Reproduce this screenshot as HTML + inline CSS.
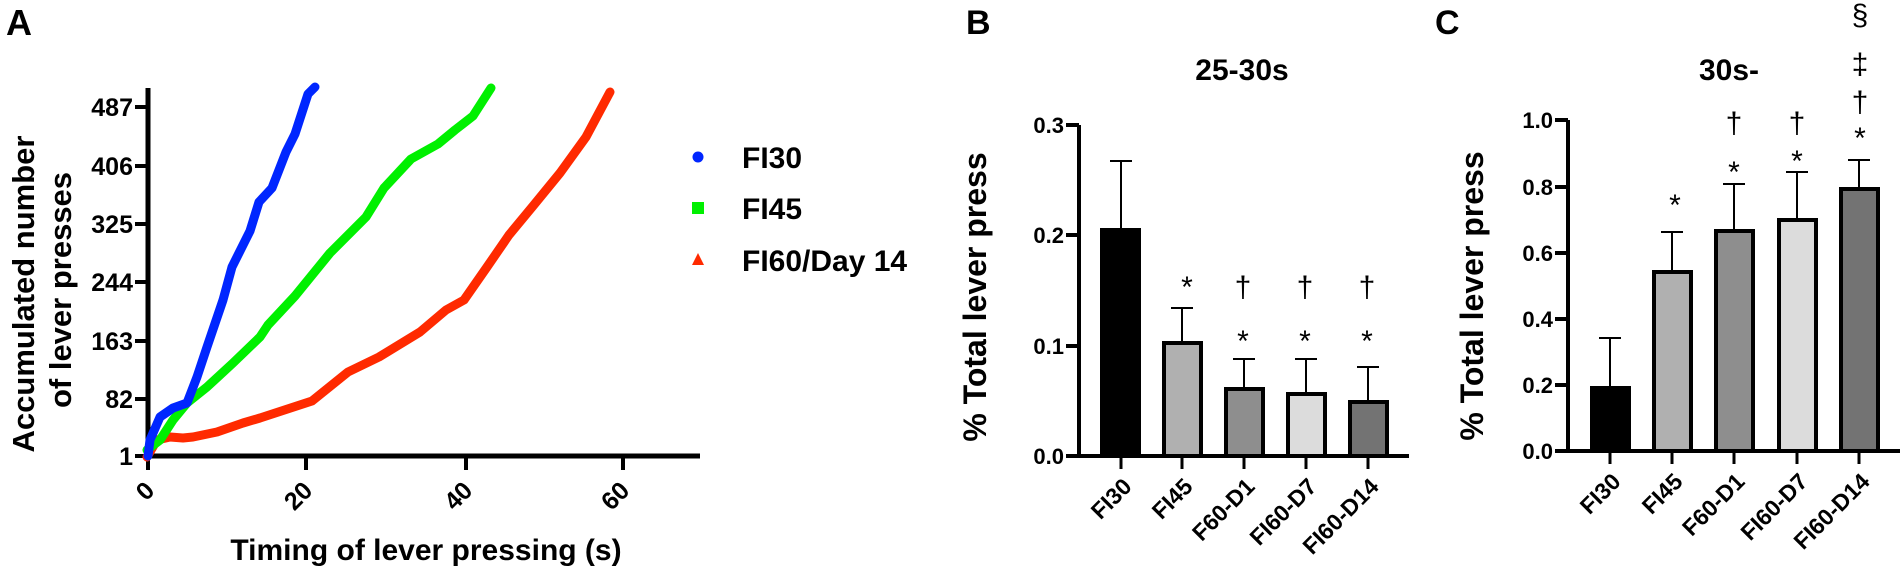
<!DOCTYPE html>
<html><head><meta charset="utf-8"><style>
html,body{margin:0;padding:0;background:#fff;}
svg{display:block;font-family:"Liberation Sans",Arial,sans-serif;}
</style></head><body>
<svg width="1900" height="566" viewBox="0 0 1900 566" xmlns="http://www.w3.org/2000/svg">
<!-- Panel A -->
<text x="6" y="35" font-size="36" font-weight="bold">A</text>
<g stroke="#000" stroke-width="5" fill="none">
<line x1="148" y1="88" x2="148" y2="458"/>
<line x1="146" y1="456" x2="700" y2="456"/>
</g>
<g stroke="#000" stroke-width="4">
<line x1="135" y1="107" x2="148" y2="107"/><line x1="135" y1="166" x2="148" y2="166"/>
<line x1="135" y1="224" x2="148" y2="224"/><line x1="135" y1="282" x2="148" y2="282"/>
<line x1="135" y1="341" x2="148" y2="341"/><line x1="135" y1="399" x2="148" y2="399"/>
<line x1="135" y1="456" x2="148" y2="456"/>
<line x1="148" y1="456" x2="148" y2="470"/><line x1="306" y1="456" x2="306" y2="470"/>
<line x1="466" y1="456" x2="466" y2="470"/><line x1="623" y1="456" x2="623" y2="470"/>
</g>
<g font-size="25" font-weight="bold" text-anchor="end">
<text x="133" y="116">487</text><text x="133" y="175">406</text><text x="133" y="233">325</text>
<text x="133" y="291">244</text><text x="133" y="350">163</text><text x="133" y="408">82</text>
<text x="133" y="465">1</text>
</g>
<g font-size="25" font-weight="bold" text-anchor="end">
<text transform="translate(156,492) rotate(-45)">0</text>
<text transform="translate(314,492) rotate(-45)">20</text>
<text transform="translate(474,492) rotate(-45)">40</text>
<text transform="translate(631,492) rotate(-45)">60</text>
</g>
<text x="426" y="560" font-size="30" font-weight="bold" text-anchor="middle">Timing of lever pressing (s)</text>
<text transform="translate(34,294) rotate(-90)" font-size="31" font-weight="bold" text-anchor="middle">Accumulated number</text>
<text transform="translate(71,290) rotate(-90)" font-size="31" font-weight="bold" text-anchor="middle">of lever presses</text>
<g fill="none" stroke-width="9" stroke-linejoin="round" stroke-linecap="round">
<polyline stroke="#ff2a00" points="147,457 157,440 170,437 183,438 193,437 217,432 243,423 260,418 312,401 348,372 379,357 420,332 446,310 464,300 487,267 509,235 533,206 560,173 586,137 610,92"/>
<polyline stroke="#00f000" points="147,450 160,440 173,420 187,403 207,387 233,363 260,337 268,325 295,296 330,253 366,217 384,188 411,159 438,144 455,130 473,116 491,88"/>
<polyline stroke="#0026ff" points="148,456 150,440 160,417 173,408 187,403 197,377 207,347 223,300 232,267 250,231 259,202 272,188 286,152 295,134 308,94 315,87"/>
</g>
<circle cx="698" cy="157" r="5.5" fill="#0026ff"/>
<rect x="692" y="202" width="12" height="12" fill="#00f000"/>
<polygon points="698,253 704,265 692,265" fill="#ff2a00"/>
<g font-size="30" font-weight="bold">
<text x="742" y="168">FI30</text><text x="742" y="219">FI45</text><text x="742" y="271">FI60/Day 14</text>
</g>

<!-- Panel B -->
<text x="966" y="34" font-size="34" font-weight="bold">B</text>
<text x="1242" y="80" font-size="30" font-weight="bold" text-anchor="middle">25-30s</text>
<text transform="translate(986,297) rotate(-90)" font-size="32" font-weight="bold" text-anchor="middle">% Total lever press</text>
<g stroke="#000" stroke-width="4">
<line x1="1079" y1="125" x2="1079" y2="458"/>
<line x1="1066" y1="456" x2="1409" y2="456"/>
<line x1="1066" y1="125" x2="1079" y2="125"/><line x1="1066" y1="235" x2="1079" y2="235"/>
<line x1="1066" y1="346" x2="1079" y2="346"/>
</g>
<g font-size="22" font-weight="bold" text-anchor="end">
<text x="1064" y="133">0.3</text><text x="1064" y="243">0.2</text><text x="1064" y="354">0.1</text><text x="1064" y="464">0.0</text>
</g>
<g stroke="#000" stroke-width="2">
<line x1="1121" y1="228" x2="1121" y2="161"/><line x1="1110" y1="161" x2="1132" y2="161"/>
<line x1="1182" y1="341" x2="1182" y2="308"/><line x1="1171" y1="308" x2="1193" y2="308"/>
<line x1="1244" y1="387" x2="1244" y2="359"/><line x1="1233" y1="359" x2="1255" y2="359"/>
<line x1="1306" y1="392" x2="1306" y2="359"/><line x1="1295" y1="359" x2="1317" y2="359"/>
<line x1="1368" y1="400" x2="1368" y2="367"/><line x1="1357" y1="367" x2="1379" y2="367"/>
</g>
<rect x="1100" y="228" width="41" height="228" fill="#000"/>
<g stroke="#000" stroke-width="4">
<rect x="1164" y="343" width="37" height="113" fill="#b0b0b0"/>
<rect x="1226" y="389" width="37" height="67" fill="#8e8e8e"/>
<rect x="1288" y="394" width="37" height="62" fill="#dcdcdc"/>
<rect x="1350" y="402" width="37" height="54" fill="#737373"/>
</g>
<g stroke="#000" stroke-width="3">
<line x1="1121" y1="456" x2="1121" y2="469"/><line x1="1182" y1="456" x2="1182" y2="469"/>
<line x1="1244" y1="456" x2="1244" y2="469"/><line x1="1306" y1="456" x2="1306" y2="469"/>
<line x1="1368" y1="456" x2="1368" y2="469"/>
</g>
<g font-size="23" font-weight="bold" text-anchor="end">
<text transform="translate(1133,488) rotate(-45)">FI30</text>
<text transform="translate(1194,488) rotate(-45)">FI45</text>
<text transform="translate(1256,488) rotate(-45)">F60-D1</text>
<text transform="translate(1318,488) rotate(-45)">FI60-D7</text>
<text transform="translate(1380,488) rotate(-45)">FI60-D14</text>
</g>
<g font-size="30" text-anchor="middle">
<text x="1187" y="297">*</text>
<text x="1243" y="297">†</text><text x="1243" y="351">*</text>
<text x="1305" y="297">†</text><text x="1305" y="351">*</text>
<text x="1367" y="297">†</text><text x="1367" y="351">*</text>
</g>

<!-- Panel C -->
<text x="1435" y="34" font-size="34" font-weight="bold">C</text>
<text x="1729" y="80" font-size="30" font-weight="bold" text-anchor="middle">30s-</text>
<text transform="translate(1483,296) rotate(-90)" font-size="32" font-weight="bold" text-anchor="middle">% Total lever press</text>
<g stroke="#000" stroke-width="4">
<line x1="1568" y1="120" x2="1568" y2="453"/>
<line x1="1566" y1="451" x2="1900" y2="451"/>
<line x1="1555" y1="120" x2="1568" y2="120"/><line x1="1555" y1="187" x2="1568" y2="187"/>
<line x1="1555" y1="253" x2="1568" y2="253"/><line x1="1555" y1="319" x2="1568" y2="319"/>
<line x1="1555" y1="385" x2="1568" y2="385"/><line x1="1555" y1="451" x2="1568" y2="451"/>
</g>
<g font-size="22" font-weight="bold" text-anchor="end">
<text x="1553" y="128">1.0</text><text x="1553" y="195">0.8</text><text x="1553" y="261">0.6</text>
<text x="1553" y="327">0.4</text><text x="1553" y="393">0.2</text><text x="1553" y="459">0.0</text>
</g>
<g stroke="#000" stroke-width="2">
<line x1="1610" y1="386" x2="1610" y2="338"/><line x1="1599" y1="338" x2="1621" y2="338"/>
<line x1="1672" y1="270" x2="1672" y2="232"/><line x1="1661" y1="232" x2="1683" y2="232"/>
<line x1="1734" y1="229" x2="1734" y2="184"/><line x1="1723" y1="184" x2="1745" y2="184"/>
<line x1="1797" y1="218" x2="1797" y2="172"/><line x1="1786" y1="172" x2="1808" y2="172"/>
<line x1="1859" y1="187" x2="1859" y2="160"/><line x1="1848" y1="160" x2="1870" y2="160"/>
</g>
<rect x="1590" y="386" width="41" height="65" fill="#000"/>
<g stroke="#000" stroke-width="4">
<rect x="1654" y="272" width="37" height="179" fill="#b0b0b0"/>
<rect x="1716" y="231" width="37" height="220" fill="#8e8e8e"/>
<rect x="1779" y="220" width="37" height="231" fill="#dcdcdc"/>
<rect x="1841" y="189" width="37" height="262" fill="#737373"/>
</g>
<g stroke="#000" stroke-width="3">
<line x1="1610" y1="451" x2="1610" y2="464"/><line x1="1672" y1="451" x2="1672" y2="464"/>
<line x1="1734" y1="451" x2="1734" y2="464"/><line x1="1797" y1="451" x2="1797" y2="464"/>
<line x1="1859" y1="451" x2="1859" y2="464"/>
</g>
<g font-size="23" font-weight="bold" text-anchor="end">
<text transform="translate(1622,483) rotate(-45)">FI30</text>
<text transform="translate(1684,483) rotate(-45)">FI45</text>
<text transform="translate(1746,483) rotate(-45)">F60-D1</text>
<text transform="translate(1809,483) rotate(-45)">FI60-D7</text>
<text transform="translate(1871,483) rotate(-45)">FI60-D14</text>
</g>
<g font-size="30" text-anchor="middle">
<text x="1675" y="215">*</text>
<text x="1734" y="133">†</text><text x="1734" y="182">*</text>
<text x="1797" y="133">†</text><text x="1797" y="171">*</text>
<text x="1860" y="25">§</text><text x="1860" y="74">‡</text><text x="1860" y="112">†</text><text x="1860" y="148">*</text>
</g>
</svg>
</body></html>
